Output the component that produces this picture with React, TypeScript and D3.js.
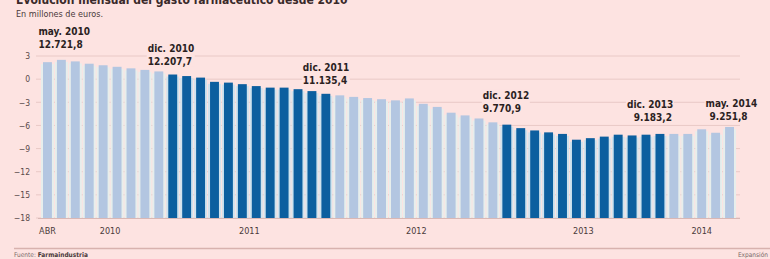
import { useRef, useEffect } from 'react';
import * as d3 from 'd3';

// Meses: abril 2010 - mayo 2014
const months = [
  '2010-04', '2010-05', '2010-06', '2010-07', '2010-08', '2010-09', '2010-10', '2010-11', '2010-12',
  '2011-01', '2011-02', '2011-03', '2011-04', '2011-05', '2011-06', '2011-07', '2011-08', '2011-09', '2011-10', '2011-11', '2011-12',
  '2012-01', '2012-02', '2012-03', '2012-04', '2012-05', '2012-06', '2012-07', '2012-08', '2012-09', '2012-10', '2012-11', '2012-12',
  '2013-01', '2013-02', '2013-03', '2013-04', '2013-05', '2013-06', '2013-07', '2013-08', '2013-09', '2013-10', '2013-11', '2013-12',
  '2014-01', '2014-02', '2014-03', '2014-04', '2014-05',
];

// Variación interanual (%)
const variation = [
  2.2, 2.5, 2.3, 2.0, 1.8, 1.6, 1.4, 1.2, 1.0,
  0.6, 0.4, 0.2, -0.35, -0.45, -0.65, -0.9, -1.1, -1.1, -1.3, -1.55, -1.9,
  -2.1, -2.3, -2.45, -2.6, -2.75, -2.5, -3.2, -3.6, -4.35, -4.7, -5.1, -5.6,
  -5.9, -6.35, -6.65, -6.9, -7.1, -7.85, -7.65, -7.45, -7.2, -7.3, -7.2, -7.1,
  -7.1, -7.1, -6.5, -6.95, -6.2,
];

const yTicks = [3, 0, -3, -6, -9, -12, -15, -18];

const xLabels = [
  { label: 'ABR', from: '2010-04', to: '2010-04' },
  { label: '2010', from: '2010-05', to: '2010-12' },
  { label: '2011', from: '2011-01', to: '2011-12' },
  { label: '2012', from: '2012-01', to: '2012-12' },
  { label: '2013', from: '2013-01', to: '2013-12' },
  { label: '2014', from: '2014-01', to: '2014-05' },
];

const notes = [
  { month: '2010-05', title: 'may. 2010', value: '12.721,8', dx: -23, dy: -25, anchor: 'start' },
  { month: '2011-01', title: 'dic. 2010', value: '12.207,7', dx: -25, dy: -23, anchor: 'start' },
  { month: '2011-12', title: 'dic. 2011', value: '11.135,4', dx: -23, dy: -23, anchor: 'start' },
  { month: '2013-01', title: 'dic. 2012', value: '9.770,9', dx: -24, dy: -26, anchor: 'start' },
  { month: '2013-12', title: 'dic. 2013', value: '9.183,2', dx: -33, dy: -26, anchor: 'end' },
  { month: '2014-05', title: 'may. 2014', value: '9.251,8', dx: -24, dy: -20, anchor: 'middle' },
];

const darkYears = ['2011', '2013'];

export default function App() {
  const svgRef = useRef<SVGSVGElement>(null);

  useEffect(() => {
    if (!svgRef.current) return;
    const svg = d3.select(svgRef.current);
    svg.selectAll('*').remove();

    const W = 770;
    const H = 259;
    const font = '"DejaVu Sans Condensed", "Liberation Sans Narrow", sans-serif';

    svg.append('rect').attr('width', W).attr('height', H).attr('fill', '#fde3e1');

    // titulo (cortado arriba, como en el original)
    svg.append('text')
      .attr('x', 16).attr('y', 3.5)
      .style('font-family', font).style('font-size', '12px').style('font-weight', 'bold')
      .attr('fill', '#3a2a2a')
      .text('Evolución mensual del gasto farmacéutico desde 2010');
    svg.append('text')
      .attr('x', 16).attr('y', 17)
      .style('font-family', font).style('font-size', '9px')
      .attr('fill', '#4a3a3a')
      .text('En millones de euros.');

    const x = d3.scaleBand<string>()
      .domain(months)
      .range([40.5, 736.5])
      .paddingInner(0.36)
      .paddingOuter(0.18);

    const y = d3.scaleLinear().domain([-18, 3]).range([218, 56]);

    // rejilla
    svg.append('g')
      .selectAll('line')
      .data(yTicks)
      .enter()
      .append('line')
      .attr('x1', 36).attr('x2', 740)
      .attr('y1', d => y(d)).attr('y2', d => y(d))
      .attr('stroke', '#e9c9c6').attr('stroke-width', 1);

    // eje Y
    const yAxis = svg.append('g')
      .attr('transform', 'translate(32,0)')
      .call(d3.axisLeft(y).tickValues(yTicks).tickSize(0).tickPadding(2));
    yAxis.select('.domain').remove();
    yAxis.selectAll('text')
      .style('font-family', font).style('font-size', '8.5px')
      .attr('fill', '#5a4a4a');

    const step = x.step();
    const isDark = (m: string) => darkYears.includes(m.slice(0, 4));

    // halo claro detrás de las barras
    svg.append('g')
      .selectAll('rect')
      .data(months)
      .enter()
      .append('rect')
      .attr('x', d => (x(d) || 0) + x.bandwidth() / 2 - step / 2 + 0.5)
      .attr('y', (_, i) => y(variation[i]) + 2)
      .attr('width', step - 1)
      .attr('height', (_, i) => y(-18) - y(variation[i]) - 2)
      .attr('fill', d => (isDark(d) ? '#cfe3ee' : '#e7eeec'));

    svg.append('g')
      .selectAll('rect')
      .data(months)
      .enter()
      .append('rect')
      .attr('x', d => x(d) || 0)
      .attr('y', (_, i) => y(variation[i]))
      .attr('width', x.bandwidth())
      .attr('height', (_, i) => y(-18) - y(variation[i]))
      .attr('fill', d => (isDark(d) ? '#0c5f9f' : '#b3c6e1'));

    // eje X
    svg.append('line')
      .attr('x1', 38).attr('x2', 740)
      .attr('y1', y(-18) + 0.5).attr('y2', y(-18) + 0.5)
      .attr('stroke', '#d9b8b5');

    svg.append('g')
      .selectAll('text')
      .data(xLabels)
      .enter()
      .append('text')
      .attr('x', d => ((x(d.from) || 0) + (x(d.to) || 0) + x.bandwidth()) / 2)
      .attr('y', 234)
      .attr('text-anchor', 'middle')
      .style('font-family', font).style('font-size', '9px')
      .attr('fill', '#4a3a3a')
      .text(d => d.label);

    // anotaciones
    const ng = svg.append('g')
      .selectAll('g')
      .data(notes)
      .enter()
      .append('g')
      .attr('transform', d => {
        const i = months.indexOf(d.month);
        const cx = (x(d.month) || 0) + x.bandwidth() / 2;
        return `translate(${cx + d.dx},${y(variation[i]) + d.dy})`;
      });
    ng.append('rect')
      .attr('x', -1).attr('y', -9)
      .attr('width', 48).attr('height', 24)
      .attr('fill', '#fde3e1');
    ng.append('text')
      .attr('y', 0)
      .style('font-family', font).style('font-size', '10px').style('font-weight', 'bold')
      .attr('fill', '#2b1f1f')
      .text(d => d.title);
    ng.append('text')
      .attr('x', d => (d.anchor === 'end' ? 45 : d.anchor === 'middle' ? 23 : 0))
      .attr('y', 13)
      .attr('text-anchor', d => d.anchor)
      .style('font-family', font).style('font-size', '10px').style('font-weight', 'bold')
      .attr('fill', '#2b1f1f')
      .text(d => d.value);

    // pie
    svg.append('line')
      .attr('x1', 14).attr('x2', W)
      .attr('y1', 248.5).attr('y2', 248.5)
      .attr('stroke', '#d8b2ae').attr('stroke-width', 1.5);
    const src = svg.append('text')
      .attr('x', 14).attr('y', 257)
      .style('font-family', font).style('font-size', '6.5px')
      .attr('fill', '#7a6a6a');
    src.append('tspan').text('Fuente: ');
    src.append('tspan').style('font-weight', 'bold').attr('fill', '#4a3a3a').text('Farmaindustria');
    svg.append('text')
      .attr('x', 768).attr('y', 257)
      .attr('text-anchor', 'end')
      .style('font-family', font).style('font-size', '6.5px')
      .attr('fill', '#7a6a6a')
      .text('Expansión');
  }, []);

  return (
    <div style={{ position: 'absolute', left: 0, top: 0, width: 770, height: 259 }}>
      <svg ref={svgRef} width={770} height={259} style={{ display: 'block' }} />
    </div>
  );
}
